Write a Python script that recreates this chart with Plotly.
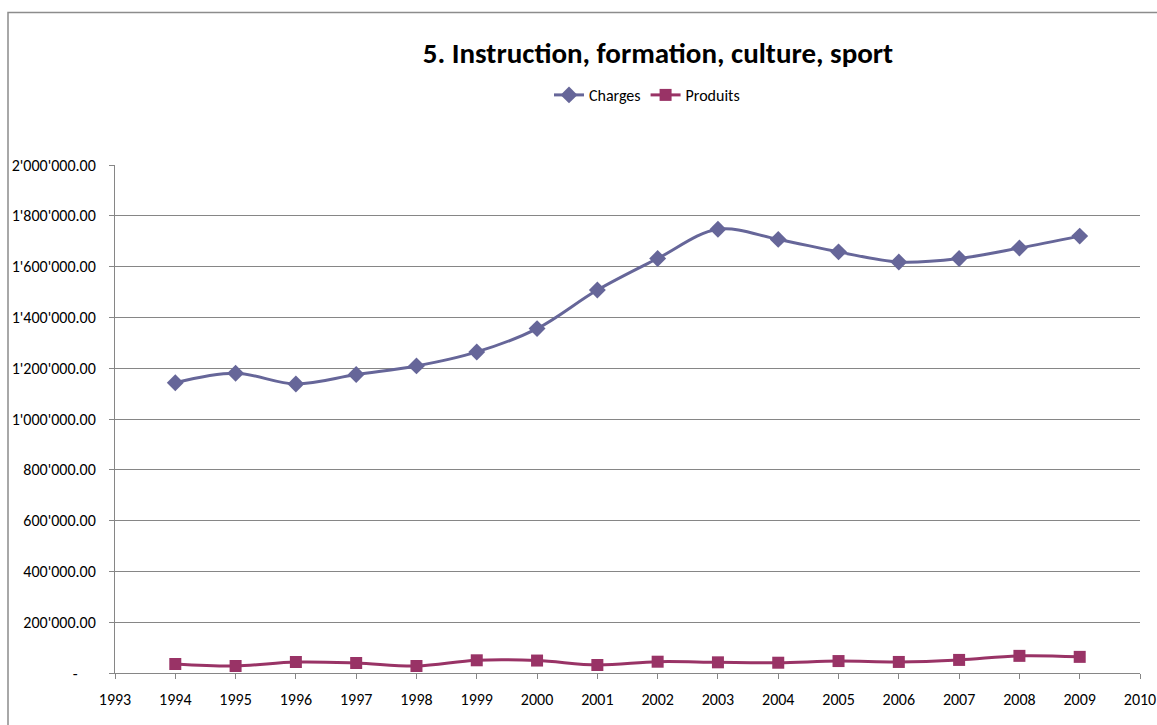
import plotly.graph_objects as go

years = list(range(1994, 2010))
charges = [1143000, 1180000, 1138000, 1175000, 1209000, 1264000, 1356000, 1508000,
           1632000, 1747000, 1707000, 1658000, 1618000, 1632000, 1673000, 1720000]
produits = [35400, 27600, 43300, 39400, 27600, 50000, 49000, 31500,
            44500, 42000, 40500, 47000, 43500, 51500, 67500, 63500]

y_tickvals = [0, 200000, 400000, 600000, 800000, 1000000, 1200000, 1400000, 1600000, 1800000, 2000000]
y_ticktext = ["-" + "\u00a0" * 5, "200'000.00", "400'000.00", "600'000.00", "800'000.00",
              "1'000'000.00", "1'200'000.00", "1'400'000.00", "1'600'000.00",
              "1'800'000.00", "2'000'000.00"]
x_tickvals = list(range(1993, 2011))

FONT = "Carlito, Calibri, Lato, sans-serif"

fig = go.Figure()
fig.add_trace(go.Scatter(
    x=years, y=charges, name="Charges", mode="lines+markers",
    line=dict(color="#666699", width=3, shape="spline", smoothing=1.0),
    marker=dict(symbol="diamond", size=13, color="#666699"),
))
fig.add_trace(go.Scatter(
    x=years, y=produits, name="Produits", mode="lines+markers",
    line=dict(color="#993366", width=3, shape="spline", smoothing=1.0),
    marker=dict(symbol="square", size=12, color="#993366"),
))

W, H = 1157, 725
PX0, PX1, PY0, PY1 = 115, 1140, 165, 673
L, R, T, B = PX0, W - PX1, PY0, H - PY1
pw = PX1 - PX0
ph = PY1 - PY0

fig.update_layout(
    width=W, height=H, autosize=False,
    margin=dict(l=L, r=R, t=T, b=B, pad=0, autoexpand=False),
    paper_bgcolor="white", plot_bgcolor="white",
    font=dict(family=FONT, size=16, color="black"),
    title=dict(text="<b>5. Instruction, formation, culture, sport</b>",
               x=658 / W, xanchor="center", y=1 - 53 / H, yanchor="middle",
               yref="container", font=dict(size=29, family=FONT, color="black"),
               automargin=False),
    legend=dict(orientation="h", x=(647 - PX0) / pw, xanchor="center",
                y=(PY1 - 95) / ph, yanchor="middle", font=dict(size=16),
                bgcolor="rgba(0,0,0,0)"),
    showlegend=True,
)
fig.update_xaxes(
    range=[1993, 2010], tickvals=x_tickvals, ticktext=[str(v) for v in x_tickvals],
    showgrid=False, showline=True, linecolor="#868686", linewidth=1,
    ticks="outside", ticklen=5, tickcolor="#868686", ticklabelstandoff=7,
    zeroline=False, tickfont=dict(size=16), automargin=False,
)
fig.update_yaxes(
    range=[0, 2000000], tickvals=y_tickvals, ticktext=y_ticktext,
    showgrid=True, gridcolor="#868686", gridwidth=1,
    showline=True, linecolor="#868686", linewidth=1,
    ticks="outside", ticklen=5, tickcolor="#868686", ticklabelstandoff=10,
    zeroline=False, tickfont=dict(size=16), automargin=False,
)

fig.add_shape(type="rect", xref="paper", yref="paper",
              x0=(8 - PX0) / pw, x1=(W + 5 - PX0) / pw,
              y0=(PY1 - (H + 5)) / ph, y1=(PY1 - 12.5) / ph,
              line=dict(color="#8c8c8c", width=1.5), fillcolor="rgba(0,0,0,0)",
              layer="below")

fig.write_html(
    "out.html",
    config={"responsive": False, "displayModeBar": False},
    post_script="document.body.style.margin='0';document.body.style.overflow='hidden';",
)
